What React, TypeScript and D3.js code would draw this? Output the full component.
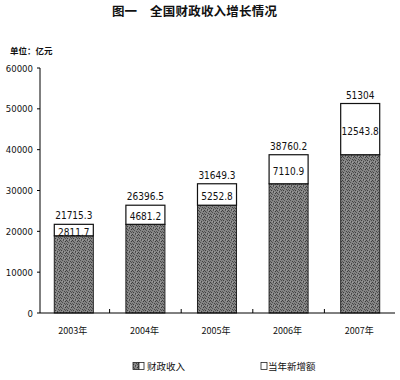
import React from "react";
import * as d3 from "d3";

const years = ["2003年", "2004年", "2005年", "2006年", "2007年"];
const totals = [21715.3, 26396.5, 31649.3, 38760.2, 51304];
const increments = [2811.7, 4681.2, 5252.8, 7110.9, 12543.8];
const totalLabels = ["21715.3", "26396.5", "31649.3", "38760.2", "51304"];
const incrementLabels = ["2811.7", "4681.2", "5252.8", "7110.9", "12543.8"];
const yTicks = [0, 10000, 20000, 30000, 40000, 50000, 60000];

const W = 400;
const H = 380;
const numFont = "'Liberation Sans Narrow', 'Arial Narrow', 'DejaVu Sans Condensed', sans-serif";
const cjkFont = "'Noto Sans CJK SC', sans-serif";
const dots: [number, number, string][] = [
  [0, 0, "#3c3c3c"], [3, 0, "#555"], [1, 1, "#4a4a4a"], [5, 1, "#3a3a3a"],
  [2, 2, "#505050"], [4, 3, "#444"], [0, 3, "#5a5a5a"], [1, 4, "#3e3e3e"],
  [5, 4, "#4f4f4f"], [3, 5, "#464646"], [2, 5, "#9a9a9a"], [4, 0, "#a0a0a0"],
];

export default function App() {
  const x = d3.scaleBand<string>().domain(years).range([38, 396]).paddingInner(0.455).paddingOuter(0.2275);
  const y = d3.scaleLinear().domain([0, 60000]).range([313, 68]);
  const bw = x.bandwidth();
  const step = x.step();
  const axisX0 = 40;
  const axisX1 = 395;

  return (
    <svg width={W} height={H} style={{ position: "absolute", left: 0, top: 0, background: "#fff" }}>
      <defs>
        <pattern id="stip" width="6" height="6" patternUnits="userSpaceOnUse">
          <rect width="6" height="6" fill="#858585" />
          {dots.map(([dx, dy, c], k) => (
            <rect key={k} x={dx} y={dy} width="1" height="1" fill={c} />
          ))}
        </pattern>
      </defs>
      <rect width={W} height={H} fill="#fff" />
      {/* title */}
      <text x={112} y={16} fontFamily={cjkFont} fontSize={12.5} fontWeight="bold" fill="#111">
        图一
      </text>
      <text x={150} y={16} fontFamily={cjkFont} fontSize={12.5} fontWeight="bold" fill="#111" textLength={127}>
        全国财政收入增长情况
      </text>
      <text x={10} y={54} fontFamily={cjkFont} fontSize={8.5} fontWeight="bold" fill="#111">
        单位：亿元
      </text>

      {/* y axis */}
      <line x1={axisX0} x2={axisX0} y1={y(60000)} y2={y(0)} stroke="#000" strokeWidth={1} />
      {yTicks.map((t) => (
        <g key={t}>
          <line x1={axisX0 - 3} x2={axisX0} y1={y(t)} y2={y(t)} stroke="#000" strokeWidth={1} />
          <text x={33} y={y(t)} textAnchor="end" dominantBaseline="central" fontFamily={numFont} fontSize={9.5} fill="#111">
            {t}
          </text>
        </g>
      ))}

      {/* bars */}
      {years.map((yr, i) => {
        const x0 = x(yr) as number;
        const base = totals[i] - increments[i];
        const yTop = y(totals[i]);
        const yBase = y(base);
        return (
          <g key={yr}>
            <rect x={x0} y={yBase} width={bw} height={y(0) - yBase} fill="url(#stip)" stroke="#222" strokeWidth={1} />
            <rect x={x0} y={yTop} width={bw} height={yBase - yTop} fill="#fff" stroke="#111" strokeWidth={1.2} />
            <text x={x0 + bw / 2} y={(yTop + yBase) / 2 + 2} textAnchor="middle" dominantBaseline="central" fontFamily={numFont} fontSize={10} fill="#111">
              {incrementLabels[i]}
            </text>
            <text x={x0 + bw / 2} y={yTop - 5} textAnchor="middle" fontFamily={numFont} fontSize={10} fill="#111">
              {totalLabels[i]}
            </text>
            <text x={x0 + bw / 2 - 1} y={334} textAnchor="middle" fontFamily={cjkFont} fontSize={9} fill="#111">
              {yr}
            </text>
          </g>
        );
      })}

      {/* x axis */}
      <line x1={axisX0} x2={axisX1} y1={y(0)} y2={y(0)} stroke="#000" strokeWidth={1} />
      {years.slice(1).map((yr, i) => {
        const bx = 38 + step * (i + 1);
        return <line key={yr} x1={bx} x2={bx} y1={y(0) - 4} y2={y(0)} stroke="#000" strokeWidth={1} />;
      })}

      {/* legend */}
      <rect x={133} y={362.5} width={6} height={7} fill="url(#stip)" stroke="#222" strokeWidth={0.8} />
      <rect x={139} y={362.5} width={5} height={7} fill="#fff" stroke="#222" strokeWidth={0.8} />
      <text x={147} y={366} dominantBaseline="central" fontFamily={cjkFont} fontSize={9.5} fill="#111">
        财政收入
      </text>
      <rect x={261} y={362.5} width={6} height={7} fill="#fff" stroke="#222" strokeWidth={0.8} />
      <text x={268} y={366} dominantBaseline="central" fontFamily={cjkFont} fontSize={9.5} fill="#111">
        当年新增额
      </text>
    </svg>
  );
}
